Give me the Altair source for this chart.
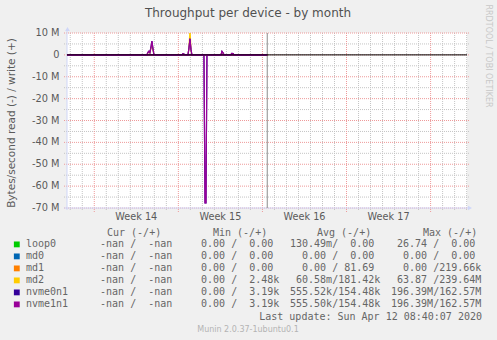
import altair as alt
import pandas as pd

# ---------------- data ----------------
# x: days since Mon 2020-03-30 00:00 (start of ISO week 14); y: MB/s (read negative)
x_domain = [-2.27, 31.03]
y_domain = [-70, 10]
now_day = [14.40]

devices = ["loop0", "md0", "md1", "md2", "nvme0n1", "nvme1n1"]
colors = ["#00CC00", "#0066B3", "#FF8000", "#FFCC00", "#330099", "#990099"]

flat_days = [-2.27, 14.40]
flat_vals = [0.0, 0.0]

write_days = [-2.27, 4.38, 4.47, 4.55, 4.63, 4.72, 4.80, 4.88, 4.97,
              7.30, 7.38, 7.47, 7.55,
              7.80, 7.88, 7.97, 8.05, 8.13,
              10.55, 10.63, 10.72, 10.80,
              11.36, 11.45, 11.55, 11.63, 14.40]
md2_write = [0, 0, 1.0, 1.5, 0.9, 3.0, 5.6, 2.6, 0,
             0, 0.4, 0.3, 0,
             0, 2.8, 12.0, 2.0, 0,
             0, 1.4, 0.8, 0,
             0, 0.6, 0.5, 0, 0]
nvme0_write = [0, 0, 1.2, 1.7, 1.0, 3.5, 6.3, 3.0, 0,
               0, 0.5, 0.4, 0,
               0, 3.0, 7.4, 2.5, 0,
               0, 1.6, 0.9, 0,
               0, 0.7, 0.6, 0, 0]
nvme1_write = [0, 0, 1.2, 1.7, 1.0, 3.5, 6.3, 3.0, 0,
               0, 0.5, 0.4, 0,
               0, 3.0, 7.4, 2.5, 0,
               0, 1.6, 0.9, 0,
               0, 0.7, 0.6, 0, 0]

read_days = [-2.27, 9.13, 9.22, 9.30, 9.38, 14.40]
nvme0_read = [0, 0, -67.7, -67.7, 0, 0]
nvme1_read = [0, 0, -67.7, -67.7, 0, 0]

series = {
    "loop0": [(flat_days, flat_vals), (flat_days, flat_vals)],
    "md0": [(flat_days, flat_vals), (flat_days, flat_vals)],
    "md1": [(flat_days, flat_vals), (flat_days, flat_vals)],
    "md2": [(write_days, md2_write), (flat_days, flat_vals)],
    "nvme0n1": [(write_days, nvme0_write), (read_days, nvme0_read)],
    "nvme1n1": [(write_days, nvme1_write), (read_days, nvme1_read)],
}

y_ticks = [10, 0, -10, -20, -30, -40, -50, -60, -70]
y_labels = ["10 M", "0", "-10 M", "-20 M", "-30 M", "-40 M", "-50 M", "-60 M", "-70 M"]
y_minor = [5, -5, -15, -25, -35, -45, -55, -65]
week_days = [0, 7, 14, 21, 28]
day_ticks = [d for d in range(-2, 32) if d % 7 != 0]
week_centers = [3.5, 10.5, 17.5, 24.5]
week_labels = ["Week 14", "Week 15", "Week 16", "Week 17"]

cur_vals = ["  -nan /  -nan"] * 6
min_vals = ["  0.00 /  0.00", "  0.00 /  0.00", "  0.00 /  0.00",
            "  0.00 /  2.48k", "  0.00 /  3.19k", "  0.00 /  3.19k"]
avg_vals = ["130.49m/  0.00", "  0.00 /  0.00", "  0.00 / 81.69",
            " 60.58m/181.42k", "555.52k/154.48k", "555.50k/154.48k"]
max_vals = [" 26.74 /  0.00", "  0.00 /  0.00", "  0.00 /219.66k",
            " 63.87 /239.64M", "196.39M/162.57M", "196.39M/162.57M"]
headers = ["Cur (-/+)", "Min (-/+)", "Avg (-/+)", "Max (-/+)"]

# ---------------- layout ----------------
X0, Y0 = 67, 33
W, H = 400, 175
TXT = "#5a5a5a"
LEG = "#666666"
CH = 6.02  # monospace char advance at 10px

xs = alt.Scale(domain=x_domain, nice=False, zero=False)
ys = alt.Scale(domain=y_domain, nice=False, zero=False)
xenc = alt.X("d:Q", scale=xs, axis=None)
yenc = alt.Y("v:Q", scale=ys, axis=None)
cenc = alt.Color("dev:N", scale=alt.Scale(domain=devices, range=colors), legend=None)

one = pd.DataFrame({"a": [0]})


def label(text, x, y, size, color=TXT, font="DejaVu Sans", align="left", angle=0):
    lead = len(text) - len(text.lstrip(" "))
    if align == "left":
        x = x + lead * CH
    text = text.strip(" ").replace(" ", "\u00a0")
    kw = dict(align=align, baseline="middle", fontSize=size, color=color, font=font)
    if angle:
        kw["angle"] = angle
    return alt.Chart(one).mark_text(**kw).encode(
        x=alt.value(x - X0), y=alt.value(y - Y0), text=alt.value(text))


layers = []

# grid
layers.append(alt.Chart(pd.DataFrame({"v": y_minor})).mark_rule(
    color="#c4c4c4", strokeDash=[1, 1], strokeWidth=1).encode(
    y=yenc, x=alt.value(-3), x2=alt.value(W + 2)))
layers.append(alt.Chart(pd.DataFrame({"d": day_ticks})).mark_rule(
    color="#c4c4c4", strokeDash=[1, 1], strokeWidth=1).encode(
    x=xenc, y=alt.value(0), y2=alt.value(H + 2)))
layers.append(alt.Chart(pd.DataFrame({"v": y_ticks})).mark_rule(
    color="#ee9a9a", strokeDash=[1, 1], strokeWidth=1).encode(
    y=yenc, x=alt.value(-3), x2=alt.value(W + 2)))
layers.append(alt.Chart(pd.DataFrame({"d": week_days})).mark_rule(
    color="#ee9a9a", strokeDash=[1, 1], strokeWidth=1).encode(
    x=xenc, y=alt.value(0), y2=alt.value(H + 4)))

# axes lines + arrows
axc = "#CFD6F8"
layers.append(alt.Chart(one).mark_rule(color=axc, strokeWidth=1).encode(
    x=alt.value(0), y=alt.value(-4), y2=alt.value(H + 2)))
layers.append(alt.Chart(one).mark_rule(color=axc, strokeWidth=1).encode(
    y=alt.value(H), x=alt.value(-3), x2=alt.value(W + 3)))
layers.append(alt.Chart(one).mark_point(shape="triangle-up", filled=True, size=22, color=axc, opacity=1).encode(
    x=alt.value(0.5), y=alt.value(-4)))
layers.append(alt.Chart(one).mark_point(shape="triangle-right", filled=True, size=22, color=axc, opacity=1).encode(
    x=alt.value(W + 3), y=alt.value(H)))

# now line
layers.append(alt.Chart(pd.DataFrame({"d": now_day})).mark_rule(color="#8c8c8c", strokeWidth=1).encode(
    x=xenc, y=alt.value(0), y2=alt.value(H)))

# data lines
for dev in devices:
    rows = []
    for k, (dd, vv) in enumerate(series[dev]):
        for d, v in zip(dd, vv):
            rows.append({"dev": dev, "s": f"{dev}-{k}", "d": d, "v": v})
    layers.append(alt.Chart(pd.DataFrame(rows)).mark_line(clip=True, strokeWidth=1.2).encode(
        x=xenc, y=yenc, color=cenc, detail="s:N"))

# zero line
layers.append(alt.Chart(pd.DataFrame({"v": [0]})).mark_rule(color="#000000", strokeWidth=1).encode(
    y=yenc, x=alt.value(0), x2=alt.value(W)))

# tick labels
layers.append(alt.Chart(pd.DataFrame({"v": y_ticks, "t": y_labels})).mark_text(
    align="right", baseline="middle", fontSize=9.8, font="DejaVu Sans", color=TXT).encode(
    y=yenc, x=alt.value(-7.5), text="t:N"))
layers.append(alt.Chart(pd.DataFrame({"d": week_centers, "t": week_labels})).mark_text(
    align="center", baseline="middle", fontSize=9.7, font="DejaVu Sans", color=TXT).encode(
    x=xenc, y=alt.value(216.5 - Y0), text="t:N"))

# titles
layers.append(label("Throughput per device - by month", 248, 13, 12, color="#505050", align="center"))
layers.append(label("Bytes/second read (-) / write (+)", 11.5, 123, 10.5, align="center", angle=270))
layers.append(label("RRDTOOL / TOBI OETIKER", 488, 56, 8, color="#c8c8c8", align="center", angle=90))

# legend
MONO = "DejaVu Sans Mono"
hx = [107, 213, 317, 423]
for h, x in zip(headers, hx):
    layers.append(label(h, x, 232.8, 10, color=LEG, font=MONO))
col_x = [88, 189, 290, 391]
for i, dev in enumerate(devices):
    y = 244.4 + 12.0 * i
    layers.append(alt.Chart(one).mark_point(shape="square", filled=True, size=34, opacity=1,
                                            color=colors[i]).encode(
        x=alt.value(16.8 - X0), y=alt.value(y - Y0)))
    layers.append(label(dev, 26, y, 10, color=LEG, font=MONO))
    for cx, vals in zip(col_x, [cur_vals, min_vals, avg_vals, max_vals]):
        layers.append(label(vals[i], cx, y, 10, color=LEG, font=MONO))
layers.append(label("Last update: Sun Apr 12 08:40:07 2020", 482, 316.7, 10, color=LEG, font=MONO, align="right"))
layers.append(label("Munin 2.0.37-1ubuntu0.1", 248, 330, 8, color="#b4b4b4", align="center"))

chart = alt.layer(*layers).properties(
    width=W, height=H,
    autosize=alt.AutoSizeParams(type="none"),
    padding={"left": X0, "top": Y0, "right": 497 - X0 - W, "bottom": 340 - Y0 - H},
    background="#F0F0F0",
).configure_view(fill="#FFFFFF", strokeWidth=0)

chart.save("out.html", embed_options={"renderer": "svg", "actions": False})
